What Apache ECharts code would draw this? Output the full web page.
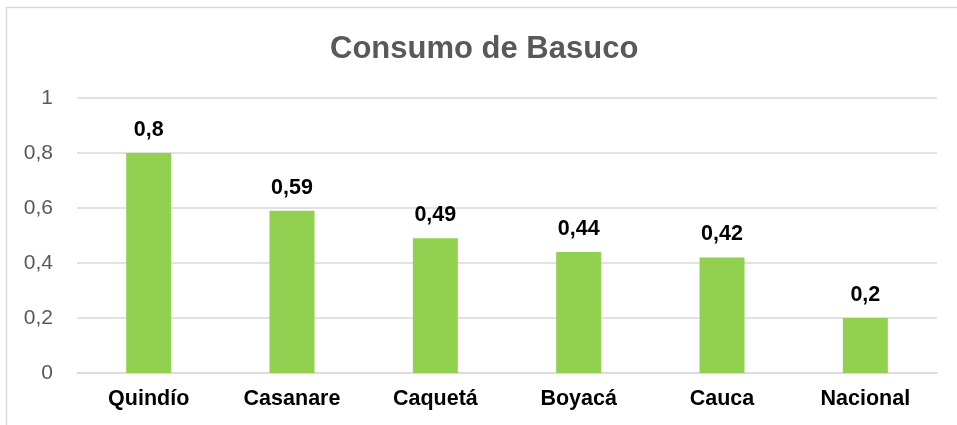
<!DOCTYPE html>
<html><head><meta charset="utf-8">
<script src="https://cdn.jsdelivr.net/npm/echarts@6/dist/echarts.min.js"></script>
<style>html,body{margin:0;padding:0;background:#fff}#c{width:957px;height:425px}</style>
</head><body><div id="c"></div>
<script>
const categories = ['Quindío','Casanare','Caquetá','Boyacá','Cauca','Nacional'];
const values = [0.8, 0.59, 0.49, 0.44, 0.42, 0.2];
const titleText = 'Consumo de Basuco';
const fmt = v => String(v).replace('.', ',');
const chart = echarts.init(document.getElementById('c'), null, {renderer:'canvas'});
chart.setOption({
  animation:false,
  backgroundColor:'#fff',
  graphic:[{type:'rect', shape:{x:6.5,y:7.5,width:970,height:440}, style:{fill:'none', stroke:'#d9d9d9', lineWidth:1.5}, z:-1}],
  title:{text:titleText, left:325, top:29, padding:5, textStyle:{fontFamily:'Liberation Sans, Arial', fontSize:31, fontWeight:'bold', color:'#595959'}},
  grid:{left:77, right:20, top:98, bottom:52, containLabel:false},
  xAxis:{type:'category', data:categories,
    axisLine:{show:true, lineStyle:{color:'#d9d9d9', width:1.5}}, axisTick:{show:false},
    axisLabel:{margin:15, fontFamily:'Liberation Sans, Arial', fontSize:21.5, fontWeight:'bold', color:'#000'}},
  yAxis:{type:'value', min:0, max:1, interval:0.2,
    axisLine:{show:false}, axisTick:{show:false},
    splitLine:{lineStyle:{color:'#d9d9d9', width:1.5}},
    axisLabel:{margin:24, fontFamily:'Liberation Sans, Arial', fontSize:21, color:'#595959', formatter:v=>fmt(+v.toFixed(1))}},
  series:[{type:'bar', data:values, barWidth:45, itemStyle:{color:'#92d050'},
    label:{show:true, position:'top', distance:12, fontFamily:'Liberation Sans, Arial', fontSize:21.5, fontWeight:'bold', color:'#000', formatter:p=>fmt(p.value)}}]
});
</script></body></html>
